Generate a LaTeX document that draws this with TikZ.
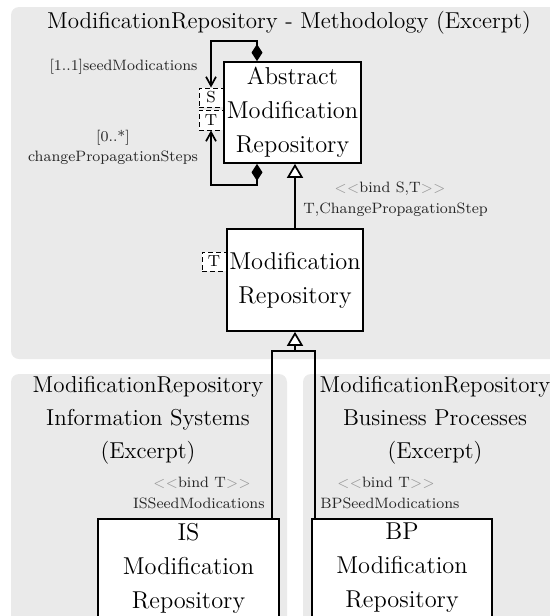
\documentclass[tikz,border=0pt]{standalone}
\usetikzlibrary{arrows.meta}
\definecolor{panelgray}{RGB}{234,234,234}
\begin{document}
\begin{tikzpicture}[x=0.5pt,y=-0.5pt,
  panel/.style={fill=panelgray, rounded corners=4pt, draw=none},
  umlbox/.style={draw=black, line width=0.85pt, fill=white, inner sep=0pt, align=center, font=\fontsize{12.2}{17}\selectfont},
  boxtext/.style={inner sep=0pt, align=center, font=\fontsize{12.2}{17}\selectfont},
  paramtab/.style={draw=black, dash pattern=on 2.5pt off 1.5pt, line width=0.5pt, fill=white, inner sep=0pt, minimum width=12pt, minimum height=9.5pt, font=\fontsize{8}{9}\selectfont},
  paneltitle/.style={inner sep=0pt, align=center, font=\fontsize{11.5}{16.5}\selectfont},
  lbl/.style={inner sep=0pt, align=center, font=\fontsize{7.5}{10}\selectfont, text=black!85},
  conn/.style={line width=0.85pt, draw=black},
  comp/.style={conn, {Diamond[length=8.5pt,width=5.5pt]}-{Straight Barb[length=4.5pt,width=5pt]}},
  gen/.style={conn, -{Triangle[open, fill=white, length=7pt, width=8pt]}},
]
\useasboundingbox (0,0) rectangle (550,616);
\clip (0,0) rectangle (550,616);

% upper panel
\fill[panel] (11,7) rectangle (567,359);
\node[paneltitle] (title) at (289,23) {ModificationRepository - Methodology (Excerpt)};

\node[umlbox, minimum width=68.5pt, minimum height=50.5pt] (amr) at (292.5,112.5) {Abstract\\Modification\\Repository};
\node[paramtab] (s) at (211,97.5) {S};
\node[paramtab, minimum height=10pt] (t) at (211,120) {T};

\coordinate (c1) at (257,41);
\coordinate (c2) at (257,185);
\draw[comp] (amr.north -| c1) -- (c1) -| (s.north);
\draw[comp] (amr.south -| c2) -- (c2) -| (t.south);

\node[lbl] (l1) at (123.5,67) {[1..1]seedModications};
\node[lbl] (l2) at (113,147) {[0..*]\\changePropagationSteps};

\node[umlbox, minimum width=68pt, minimum height=51pt] (mr) at (295,280) {Modification\\Repository};
\node[paramtab] (t2) at (214,261.5) {T};

\draw[gen] (mr.north) -- (mr.north |- amr.south);

\node[lbl] (b1) at (390,189) {\textcolor{black!40}{$<<$}bind S,T\textcolor{black!40}{$>>$}};
\node[lbl, anchor=west] (b2) at (303,210) {T,ChangePropagationStep};

% lower panels
\fill[panel] (11,374) rectangle (287,660);
\fill[panel] (303,374) rectangle (567,660);
\node[paneltitle] (pis) at (148,420) {ModificationRepository\\Information Systems\\(Excerpt)};
\node[paneltitle] (pbp) at (435,420) {ModificationRepository\\Business Processes\\(Excerpt)};

\node[lbl] (bis) at (202,483) {\textcolor{black!40}{$<<$}bind T\textcolor{black!40}{$>>$}};
\node[lbl, anchor=east] (sis) at (265,503) {ISSeedModications};
\node[lbl] (bbp) at (386,483) {\textcolor{black!40}{$<<$}bind T\textcolor{black!40}{$>>$}};
\node[lbl, anchor=west] (sbp) at (320,503) {BPSeedModications};

\node[umlbox, anchor=north, minimum width=90.5pt, minimum height=60pt] (is) at (188.5,518) {};
\node[boxtext] (istext) at (188.5,568) {IS\\Modification\\Repository};
\node[umlbox, anchor=north, minimum width=90pt, minimum height=60pt] (bp) at (402,518) {};
\node[boxtext] (bptext) at (402,568) {BP\\Modification\\Repository};

\coordinate (j) at (295,351);
\coordinate (xl) at (272,351);
\coordinate (xr) at (315,351);
\draw[gen] (j) -- (mr.south);
\draw[conn] (is.north -| xl) -- (xl) -- (xr) -- (bp.north -| xr);
\end{tikzpicture}
\end{document}
